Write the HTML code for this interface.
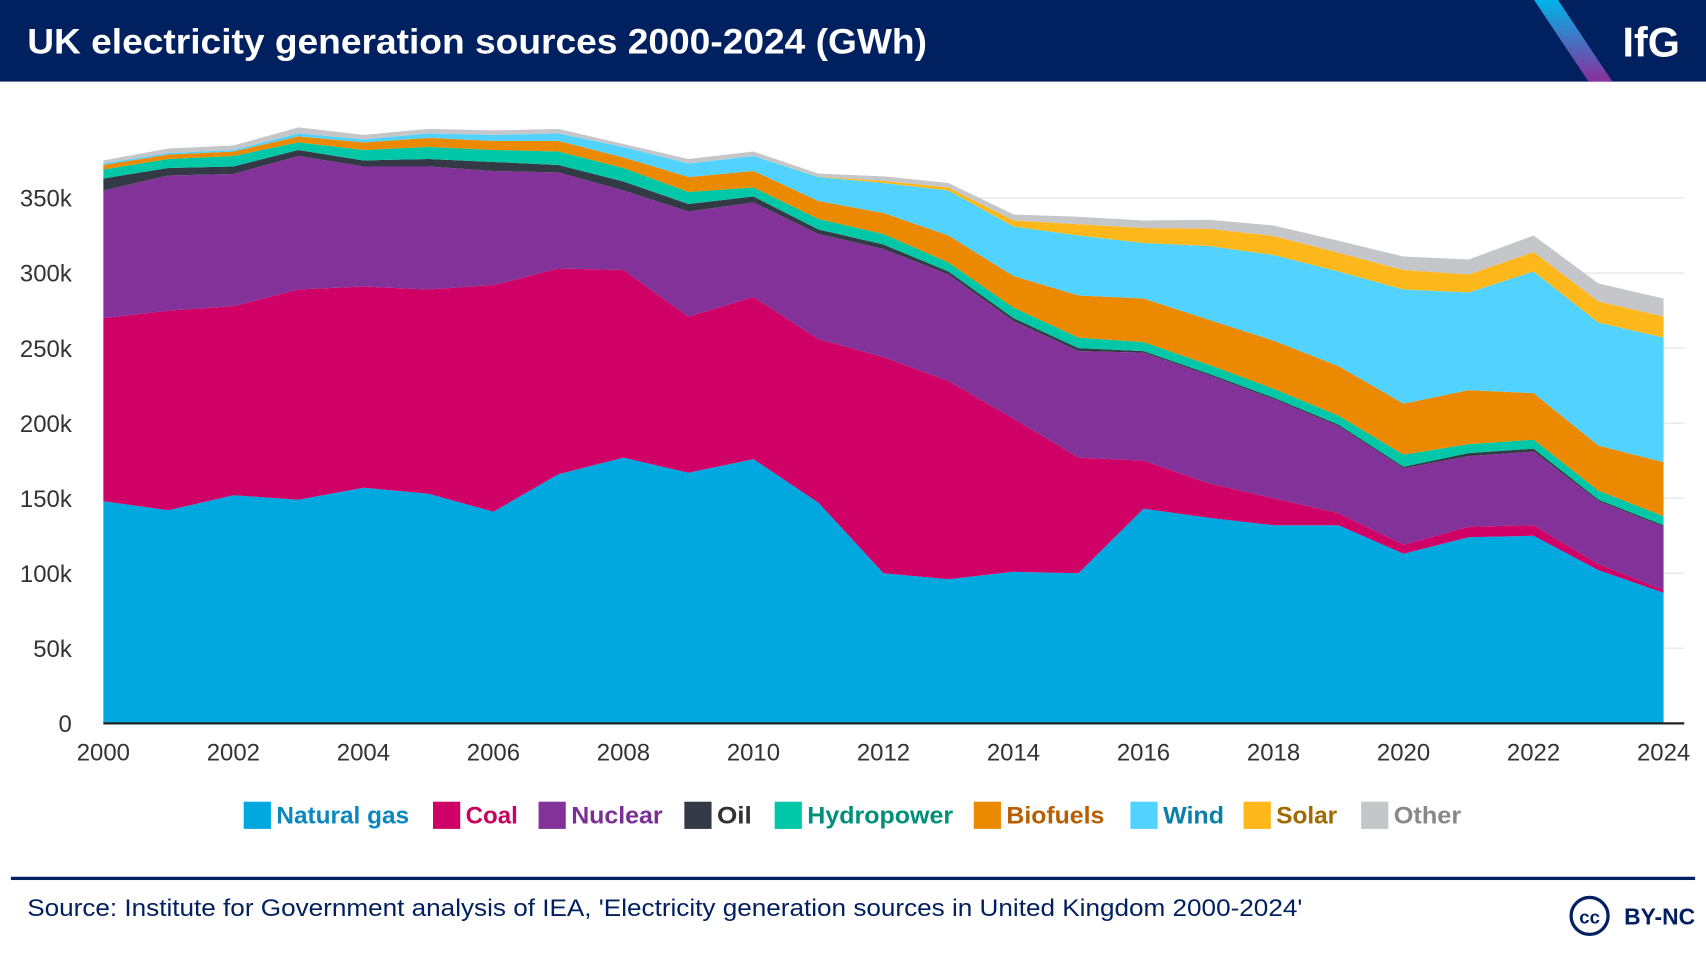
<!DOCTYPE html>
<html><head><meta charset="utf-8"><style>
html,body{margin:0;padding:0;background:#fff;}
svg{display:block;font-family:"Liberation Sans",sans-serif;}
</style></head><body>
<svg id="chart" width="1706" height="954" viewBox="0 0 1568 877" preserveAspectRatio="none" xmlns="http://www.w3.org/2000/svg">
<defs><linearGradient id="stripe" x1="0" y1="0" x2="0" y2="1"><stop offset="0" stop-color="#00b4e8"/><stop offset="1" stop-color="#8a2f9c"/></linearGradient></defs>
<rect x="0" y="0" width="1568" height="75" fill="#00205f"/>
<polygon points="1410,0 1432,0 1482,75 1460,75" fill="url(#stripe)"/>
<text x="25" y="49" fill="#fff" font-size="32" font-weight="bold" textLength="827" lengthAdjust="spacingAndGlyphs">UK electricity generation sources 2000-2024 (GWh)</text>
<text x="1544" y="52" fill="#fff" font-size="38" font-weight="bold" text-anchor="end">IfG</text>
<g id="grid"></g><g id="areas"></g><g id="axes"></g><g id="legend"></g>
<rect x="10" y="806" width="1548" height="3" fill="#00205f"/>
<text x="25" y="842" fill="#00205f" font-size="22" textLength="1172" lengthAdjust="spacingAndGlyphs">Source: Institute for Government analysis of IEA, 'Electricity generation sources in United Kingdom 2000-2024'</text>
<circle cx="1461" cy="842" r="17" fill="none" stroke="#00205f" stroke-width="3"/>
<text x="1461" y="849" fill="#00205f" font-size="17" font-weight="bold" text-anchor="middle">cc</text>
<text x="1558" y="850" fill="#00205f" font-size="21" font-weight="bold" text-anchor="end">BY-NC</text>
</svg>
<script>
const years=[2000,2001,2002,2003,2004,2005,2006,2007,2008,2009,2010,2011,2012,2013,2014,2015,2016,2017,2018,2019,2020,2021,2022,2023,2024];
const gas=[148,142,152,149,157,153,141,166,177,167,176,147,100,96,101,100,143,137,132,132,113,124,125,102,87];
const coal=[122,133,126,140,134,136,151,137,125,104,108,109,144,132,102,77,32,23,18,8,6,7,7,4,2];
const nuclear=[85,90,88,89,80,82,76,64,53,70,63,70,72,71,65,71,72,72,66,58,51,47,49,42,42];
const oil=[8,5,5,4,4,5,6,5,6,5,4,3,3,2,2,2,1,1,1,1,1,2,2,1,1];
const hydro=[6,6,7,5,7,8,8,9,9,8,6,7,7,6,7,7,6,6,6,6,8,6,6,6,6];
const biofuels=[3,3,3,4,5,6,6,7,7,10,11,12,14,18,21,28,29,30,32,33,34,36,31,30,36];
const wind=[1,1,1,2,2,3,4,5,7,9,10,16,20,30,33,40,37,49,57,63,76,65,81,82,83];
const solar=[0,0,0,0,0,0,0,0,0,0,0,0.2,1.4,2,4,7.5,10,11.5,12.7,12.5,13,12,13,14,14];
const other=[2,3,3,4,3,3,3,3,2,3,3,2,3,3,4,5,5,6,7,8,9,10,11,12,12];
const yTicks=[0,50,100,150,200,250,300,350];
const yTickLabels=["0","50k","100k","150k","200k","250k","300k","350k"];
const xTicks=[2000,2002,2004,2006,2008,2010,2012,2014,2016,2018,2020,2022,2024];
const seriesNames=["Natural gas","Coal","Nuclear","Oil","Hydropower","Biofuels","Wind","Solar","Other"];
const seriesKeys=["natural-gas","coal","nuclear","oil","hydropower","biofuels","wind","solar","other"];
const series=[gas,coal,nuclear,oil,hydro,biofuels,wind,solar,other];
const fills=["#00a8e0","#cf0066","#83329a","#333a45","#00c7a8","#eb8a00","#52d3ff","#ffb81c","#c4c6c9"];
const textCols=["#0a87c0","#c8005f","#7a2f96","#333","#00907a","#b85e00","#0a7fa8","#a06a00","#888"];
const NS="http://www.w3.org/2000/svg";
const X=v=>95+(v-2000)*(1529-95)/24;
const Y=v=>665-v*1.38;
function mk(t,a,p){const e=document.createElementNS(NS,t);for(const k in a)e.setAttribute(k,a[k]);p.appendChild(e);return e;}
const grid=document.getElementById('grid'),areas=document.getElementById('areas'),axes=document.getElementById('axes'),legend=document.getElementById('legend');
yTicks.forEach((t,i)=>{
  if(t>0){const l=mk('line',{x1:95,x2:1548,y1:Y(t),y2:Y(t),stroke:'#ebebeb','stroke-width':1.5},grid);
  
  }
  const tx=mk('text',{x:66,y:Y(t)+8,'text-anchor':'end','font-size':22,fill:'#333'},axes);
  tx.textContent=yTickLabels[i];
  
  
});
let base=years.map(()=>0);
series.forEach((s,si)=>{
  const top=base.map((b,i)=>b+s[i]);
  let d='M'+years.map((y,i)=>X(y)+','+Y(top[i])).join('L');
  for(let i=years.length-1;i>=0;i--)d+='L'+X(years[i])+','+Y(base[i]);
  const p=mk('path',{d:d+'Z',fill:fills[si]},areas);
  
  
  base=top;
});
const ax=mk('line',{x1:95,x2:1548,y1:665,y2:665,stroke:'#222','stroke-width':2},axes);


xTicks.forEach(t=>{
  const tx=mk('text',{x:X(t),y:699,'text-anchor':'middle','font-size':22,fill:'#333'},axes);
  tx.textContent=t;
  
  
});
const lxs=[224,398,495,629,712,895,1039,1143,1251];
const lws=[122,48,84,32,134,90,56,56,62];
seriesNames.forEach((n,i)=>{
  const g=mk('g',{},legend);
  
  
  mk('rect',{x:lxs[i],y:737,width:25,height:25,fill:fills[i]},g);
  const t=mk('text',{x:lxs[i]+30,y:757,'font-size':22,'font-weight':'bold',fill:textCols[i],textLength:lws[i],lengthAdjust:'spacingAndGlyphs'},g);
  t.textContent=n;
});
</script>
</body></html>
